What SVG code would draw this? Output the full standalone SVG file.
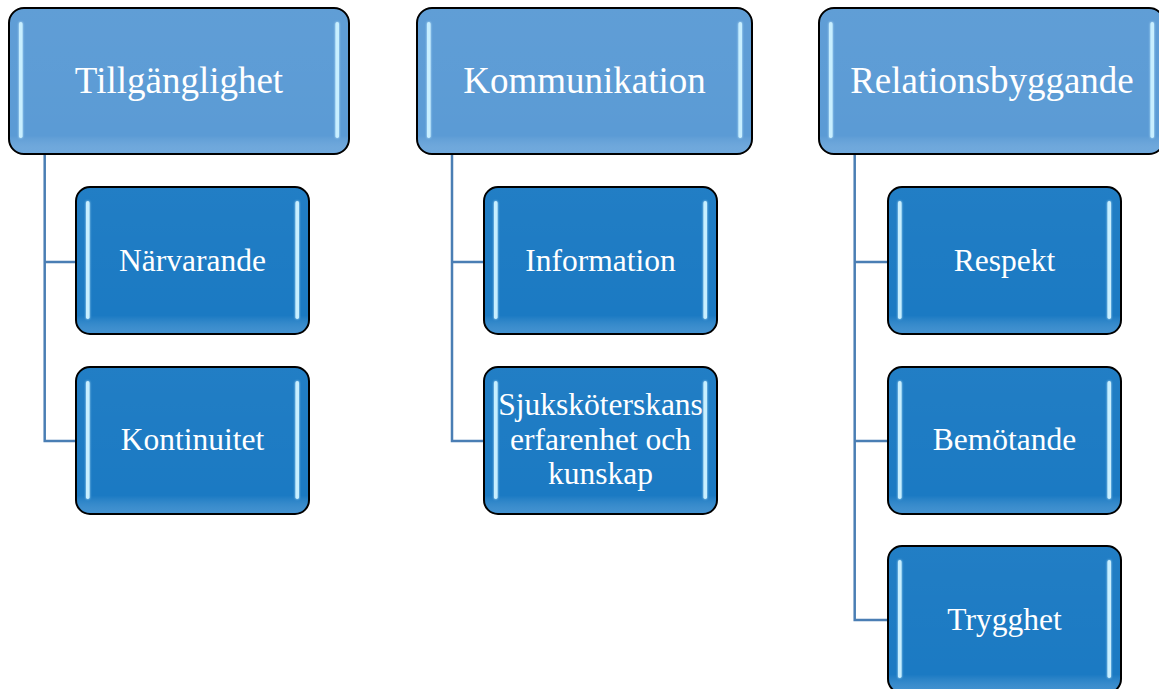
<svg xmlns="http://www.w3.org/2000/svg" width="1159" height="689" viewBox="0 0 1159 689">
<defs>
<style>
.top{fill:#5b9bd5;stroke:#000;stroke-width:2}
.sub{fill:#1b7ac3;stroke:#000;stroke-width:2}
.hl{fill:#c8efff;filter:url(#glow)}
.t1{font-family:"Liberation Serif","Times New Roman",serif;font-size:37px;fill:#fff;text-anchor:middle}
.t2{font-family:"Liberation Serif","Times New Roman",serif;font-size:31.5px;fill:#fff;text-anchor:middle}
.con{fill:none;stroke:#4a7eb4;stroke-width:2.5}
</style>
<filter id="glow" x="-200%" y="-10%" width="500%" height="120%">
<feGaussianBlur in="SourceGraphic" stdDeviation="1.2" result="b"/>
<feMerge><feMergeNode in="b"/><feMergeNode in="SourceGraphic"/></feMerge>
</filter>
<linearGradient id="shadeTop" x1="0" y1="0" x2="0" y2="1">
<stop offset="0" stop-color="#ffffff" stop-opacity="0.03"/>
<stop offset="0.88" stop-color="#ffffff" stop-opacity="0"/>
<stop offset="1" stop-color="#9cc8f0" stop-opacity="0.3"/>
</linearGradient>
</defs>
<g id="connectors">
<path class="con" d="M44.7 154V441H76M44.7 262H76"/>
<path class="con" d="M452 154V441H484M452 262H484"/>
<path class="con" d="M854.7 154V620H888M854.7 262H888M854.7 441H888"/>
</g>
<g id="n-tillganglighet">
<rect class="top" x="9" y="8" width="340" height="146" rx="15"/>
<rect x="10" y="9" width="338" height="144" rx="14" fill="url(#shadeTop)"/>
<rect class="hl" x="19" y="22" width="3.5" height="116" rx="1.75"/>
<rect class="hl" x="335.5" y="22" width="3.5" height="116" rx="1.75"/>
<text class="t1" x="179" y="93">Tillgänglighet</text>
</g>
<g id="n-kommunikation">
<rect class="top" x="417" y="8" width="335" height="146" rx="15"/>
<rect x="418" y="9" width="333" height="144" rx="14" fill="url(#shadeTop)"/>
<rect class="hl" x="427" y="22" width="3.5" height="116" rx="1.75"/>
<rect class="hl" x="738.5" y="22" width="3.5" height="116" rx="1.75"/>
<text class="t1" x="584.5" y="93">Kommunikation</text>
</g>
<g id="n-relationsbyggande">
<rect class="top" x="819" y="8" width="345" height="146" rx="15"/>
<rect x="820" y="9" width="343" height="144" rx="14" fill="url(#shadeTop)"/>
<rect class="hl" x="829" y="22" width="3.5" height="116" rx="1.75"/>
<rect class="hl" x="1150.5" y="22" width="3.5" height="116" rx="1.75"/>
<text class="t1" x="992" y="93">Relationsbyggande</text>
</g>
<g id="n-narvarande">
<rect class="sub" x="76" y="187" width="233" height="147" rx="14"/>
<rect x="77" y="188" width="231" height="145" rx="13" fill="url(#shadeTop)"/>
<rect class="hl" x="86" y="201" width="3.5" height="118" rx="1.75"/>
<rect class="hl" x="295.5" y="201" width="3.5" height="118" rx="1.75"/>
<text class="t2" x="192.5" y="271">Närvarande</text>
</g>
<g id="n-kontinuitet">
<rect class="sub" x="76" y="367" width="233" height="147" rx="14"/>
<rect x="77" y="368" width="231" height="145" rx="13" fill="url(#shadeTop)"/>
<rect class="hl" x="86" y="381" width="3.5" height="118" rx="1.75"/>
<rect class="hl" x="295.5" y="381" width="3.5" height="118" rx="1.75"/>
<text class="t2" x="192.5" y="450">Kontinuitet</text>
</g>
<g id="n-information">
<rect class="sub" x="484" y="187" width="233" height="147" rx="14"/>
<rect x="485" y="188" width="231" height="145" rx="13" fill="url(#shadeTop)"/>
<rect class="hl" x="494" y="201" width="3.5" height="118" rx="1.75"/>
<rect class="hl" x="703.5" y="201" width="3.5" height="118" rx="1.75"/>
<text class="t2" x="600.5" y="271">Information</text>
</g>
<g id="n-sjukskoterskans">
<rect class="sub" x="484" y="367" width="233" height="147" rx="14"/>
<rect x="485" y="368" width="231" height="145" rx="13" fill="url(#shadeTop)"/>
<rect class="hl" x="494" y="381" width="3.5" height="118" rx="1.75"/>
<rect class="hl" x="703.5" y="381" width="3.5" height="118" rx="1.75"/>
<text class="t2" x="600.5" y="415">Sjuksköterskans</text>
<text class="t2" x="600.5" y="450">erfarenhet och</text>
<text class="t2" x="600.5" y="484">kunskap</text>
</g>
<g id="n-respekt">
<rect class="sub" x="888" y="187" width="233" height="147" rx="14"/>
<rect x="889" y="188" width="231" height="145" rx="13" fill="url(#shadeTop)"/>
<rect class="hl" x="898" y="201" width="3.5" height="118" rx="1.75"/>
<rect class="hl" x="1107.5" y="201" width="3.5" height="118" rx="1.75"/>
<text class="t2" x="1004.5" y="271">Respekt</text>
</g>
<g id="n-bemotande">
<rect class="sub" x="888" y="367" width="233" height="147" rx="14"/>
<rect x="889" y="368" width="231" height="145" rx="13" fill="url(#shadeTop)"/>
<rect class="hl" x="898" y="381" width="3.5" height="118" rx="1.75"/>
<rect class="hl" x="1107.5" y="381" width="3.5" height="118" rx="1.75"/>
<text class="t2" x="1004.5" y="450">Bemötande</text>
</g>
<g id="n-trygghet">
<rect class="sub" x="888" y="546" width="233" height="147" rx="14"/>
<rect x="889" y="547" width="231" height="145" rx="13" fill="url(#shadeTop)"/>
<rect class="hl" x="898" y="560" width="3.5" height="118" rx="1.75"/>
<rect class="hl" x="1107.5" y="560" width="3.5" height="118" rx="1.75"/>
<text class="t2" x="1004.5" y="630">Trygghet</text>
</g>
</svg>
